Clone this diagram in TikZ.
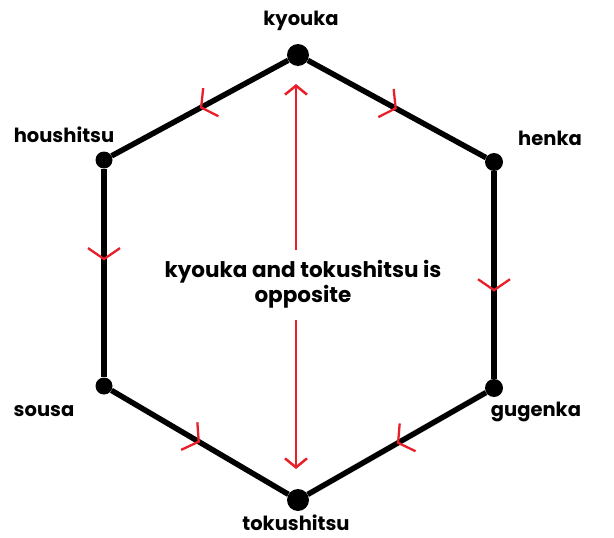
\documentclass[tikz,border=0pt]{standalone}
\usepackage{fontspec}
\setmainfont{Poppins}
\usetikzlibrary{arrows.meta,decorations.markings}
\definecolor{arrred}{RGB}{232,30,40}
\tikzset{
  vdot/.style={circle,fill=black,inner sep=0pt,minimum size=#1},
  edge/.style={line width=5.5pt,
    postaction={decorate},
    decoration={markings, mark=at position #1 with {\arrow[arrred,line width=2.3pt]{Straight Barb[length=11pt,width=32pt]}}}},
  edge/.default=0.5,
  lab/.style={anchor=base,font=\fontsize{19.5}{22}\selectfont\bfseries,inner sep=0pt},
  mid/.style={font=\fontsize{21.5}{25}\selectfont\bfseries,align=center,inner sep=0pt},
  redarr/.style={arrred,line width=2.5pt,-{Straight Barb[length=9pt,width=22pt]}}
}
\begin{document}
\begin{tikzpicture}[x=1pt,y=-1pt]
\useasboundingbox (0,0) rectangle (614,538);
\node[vdot=22pt] (ky) at (298,55) {};
\node[vdot=18pt] (he) at (494,162) {};
\node[vdot=18pt] (gu) at (494,388) {};
\node[vdot=22pt] (to) at (298,500) {};
\node[vdot=17pt] (so) at (104,386) {};
\node[vdot=17pt] (ho) at (104,160) {};
\draw[edge] (ky) -- (he);
\draw[edge=0.58] (he) -- (gu);
\draw[edge] (gu) -- (to);
\draw[edge] (ky) -- (ho);
\draw[edge=0.44] (ho) -- (so);
\draw[edge] (so) -- (to);
\node[lab] (lky) at (301,26) {kyouka};
\node[lab] (lho) at (64,142) {houshitsu};
\node[lab] (lhe) at (550,145) {henka};
\node[lab] (lgu) at (536,416) {gugenka};
\node[lab] (lso) at (44,416) {sousa};
\node[lab] (lto) at (296,530) {tokushitsu};
\node[mid] (txt) at (303,284) {kyouka and tokushitsu is\\opposite};
\coordinate (top) at (296,84);
\coordinate (bot) at (296,469);
\coordinate (ua) at (296,250);
\coordinate (la) at (296,320);
\draw[redarr] (ua) -- (top);
\draw[redarr] (la) -- (bot);
\end{tikzpicture}
\end{document}
